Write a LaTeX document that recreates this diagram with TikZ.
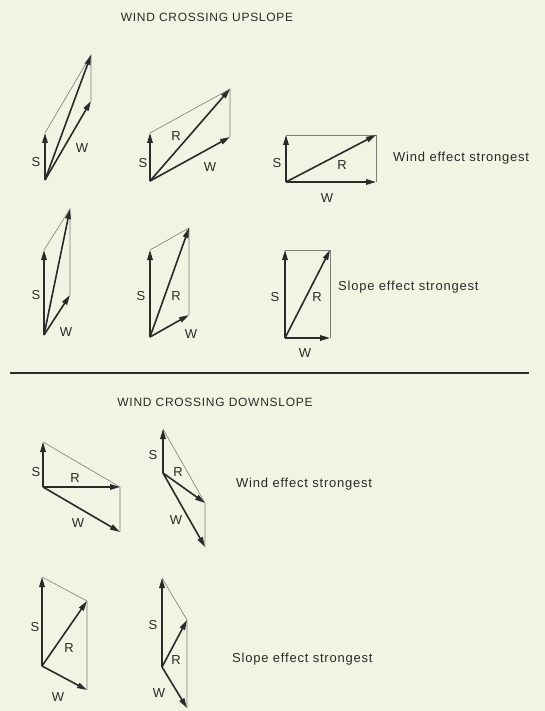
\documentclass[tikz,border=0pt]{standalone}
\usepackage{fontspec}
\setmainfont{Liberation Sans}
\newfontfamily\capfont[LetterSpace=6]{Liberation Sans}
\usetikzlibrary{arrows.meta}
\definecolor{paper}{RGB}{241,243,227}
\definecolor{ink}{RGB}{42,42,40}
\definecolor{faint}{RGB}{125,125,120}

\begin{document}
\begin{tikzpicture}[x=1pt,y=-1pt,
    vec/.style={-{Triangle[length=10pt,width=5.5pt]}, line width=1.6pt, ink},
    guide/.style={line width=0.6pt, faint},
    lbl/.style={font=\fontsize{13}{15}\selectfont, text=ink, inner sep=0pt},
    caption/.style={font=\capfont\fontsize{13}{15}\selectfont, text=ink,
                    inner sep=0pt, anchor=west},
    heading/.style={font=\capfont\fontsize{12}{14}\selectfont, text=ink,
                    inner sep=0pt},
  ]
  \fill[paper] (0,0) rectangle (545,711);

  % upslope
  \node[heading] (upttl) at (207,17) {WIND CROSSING UPSLOPE};

  \coordinate (o1) at (45,180);  \coordinate (s1) at (45,133);
  \coordinate (w1) at (91,101);  \coordinate (r1) at (91,55);
  \draw[guide] (s1) -- (r1) -- (w1);
  \draw[vec] (o1) -- (s1);
  \draw[vec] (o1) -- (w1);
  \draw[vec] (o1) -- (r1);
  \node[lbl] (s1l) at (36,162) {S};
  \node[lbl] (w1l) at (82,148) {W};

  \coordinate (o2) at (150,181); \coordinate (s2) at (150,133);
  \coordinate (w2) at (230,137); \coordinate (r2) at (230,89);
  \draw[guide] (s2) -- (r2) -- (w2);
  \draw[vec] (o2) -- (s2);
  \draw[vec] (o2) -- (w2);
  \draw[vec] (o2) -- (r2);
  \node[lbl] (s2l) at (143,163) {S};
  \node[lbl] (r2l) at (176,136) {R};
  \node[lbl] (w2l) at (210,167) {W};

  \coordinate (o3) at (286,182); \coordinate (s3) at (286,135);
  \coordinate (w3) at (376,182); \coordinate (r3) at (376,135);
  \draw[guide] (s3) -- (r3) -- (w3);
  \draw[vec] (o3) -- (s3);
  \draw[vec] (o3) -- (w3);
  \draw[vec] (o3) -- (r3);
  \node[lbl] (s3l) at (277,163) {S};
  \node[lbl] (r3l) at (342,165) {R};
  \node[lbl] (w3l) at (327,198) {W};
  \node[caption] (windup) at (393,158) {Wind effect strongest};

  \coordinate (o4) at (44,335);  \coordinate (s4) at (44,250);
  \coordinate (w4) at (70,295);  \coordinate (r4) at (70,209);
  \draw[guide] (s4) -- (r4) -- (w4);
  \draw[vec] (o4) -- (s4);
  \draw[vec] (o4) -- (w4);
  \draw[vec] (o4) -- (r4);
  \node[lbl] (s4l) at (36,295) {S};
  \node[lbl] (w4l) at (66,332) {W};

  \coordinate (o5) at (150,337); \coordinate (s5) at (150,250);
  \coordinate (w5) at (189,315); \coordinate (r5) at (189,228);
  \draw[guide] (s5) -- (r5) -- (w5);
  \draw[vec] (o5) -- (s5);
  \draw[vec] (o5) -- (w5);
  \draw[vec] (o5) -- (r5);
  \node[lbl] (s5l) at (141,296) {S};
  \node[lbl] (r5l) at (176,296) {R};
  \node[lbl] (w5l) at (191,334) {W};

  \coordinate (o6) at (285,338); \coordinate (s6) at (285,250);
  \coordinate (w6) at (330,338); \coordinate (r6) at (330,250);
  \draw[guide] (s6) -- (r6) -- (w6);
  \draw[vec] (o6) -- (s6);
  \draw[vec] (o6) -- (w6);
  \draw[vec] (o6) -- (r6);
  \node[lbl] (s6l) at (275,297) {S};
  \node[lbl] (r6l) at (317,297) {R};
  \node[lbl] (w6l) at (305,353) {W};
  \node[caption] (slopeup) at (338,287) {Slope effect strongest};

  % divider
  \coordinate (rulel) at (10,373);
  \coordinate (ruler) at (529,373);
  \draw[ink, line width=1.2pt] (rulel) -- (ruler);

  % downslope
  \node[heading] (dnttl) at (215,402) {WIND CROSSING DOWNSLOPE};

  \coordinate (o7) at (43,487);  \coordinate (s7) at (43,442);
  \coordinate (w7) at (120,532); \coordinate (r7) at (120,487);
  \draw[guide] (s7) -- (r7) -- (w7);
  \draw[vec] (o7) -- (s7);
  \draw[vec] (o7) -- (w7);
  \draw[vec] (o7) -- (r7);
  \node[lbl] (s7l) at (36,472) {S};
  \node[lbl] (r7l) at (75,478) {R};
  \node[lbl] (w7l) at (78,523) {W};

  \coordinate (o8) at (163,473); \coordinate (s8) at (163,429);
  \coordinate (w8) at (205,547); \coordinate (r8) at (205,503);
  \draw[guide] (s8) -- (r8) -- (w8);
  \draw[vec] (o8) -- (s8);
  \draw[vec] (o8) -- (w8);
  \draw[vec] (o8) -- (r8);
  \node[lbl] (s8l) at (153,455) {S};
  \node[lbl] (r8l) at (178,472) {R};
  \node[lbl] (w8l) at (176,520) {W};
  \node[caption] (winddn) at (236,484) {Wind effect strongest};

  \coordinate (o9) at (42,666);  \coordinate (s9) at (42,577);
  \coordinate (w9) at (87,690);  \coordinate (r9) at (87,601);
  \draw[guide] (s9) -- (r9) -- (w9);
  \draw[vec] (o9) -- (s9);
  \draw[vec] (o9) -- (w9);
  \draw[vec] (o9) -- (r9);
  \node[lbl] (s9l) at (35,627) {S};
  \node[lbl] (r9l) at (69,648) {R};
  \node[lbl] (w9l) at (58,697) {W};

  \coordinate (o10) at (162,667); \coordinate (s10) at (162,578);
  \coordinate (w10) at (187,708); \coordinate (r10) at (187,620);
  \draw[guide] (s10) -- (r10) -- (w10);
  \draw[vec] (o10) -- (s10);
  \draw[vec] (o10) -- (w10);
  \draw[vec] (o10) -- (r10);
  \node[lbl] (s10l) at (153,625) {S};
  \node[lbl] (r10l) at (176,660) {R};
  \node[lbl] (w10l) at (159,693) {W};
  \node[caption] (slopedn) at (232,659) {Slope effect strongest};
\end{tikzpicture}
\end{document}
